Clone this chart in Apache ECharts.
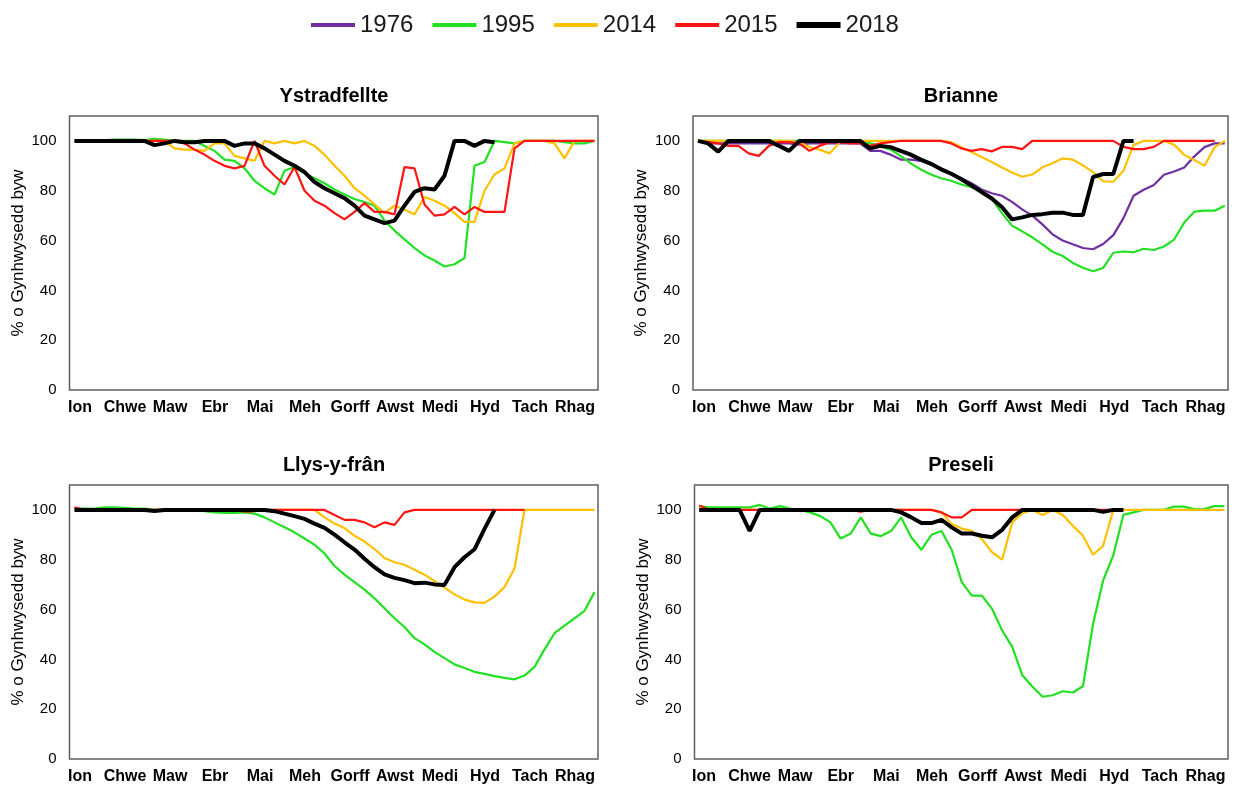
<!DOCTYPE html>
<html>
<head>
<meta charset="utf-8">
<script src="https://cdn.jsdelivr.net/npm/echarts@6/dist/echarts.min.js"></script>
<style>
  html, body { margin: 0; padding: 0; background: #fff; }
  #chart { width: 1236px; height: 790px; }
</style>
</head>
<body>
<div id="chart"></div>
<script>
// Weekly live-storage percentages (week 0 = start of January, week 52 = end of December)
const months = ['Ion', 'Chwe', 'Maw', 'Ebr', 'Mai', 'Meh', 'Gorff', 'Awst', 'Medi', 'Hyd', 'Tach', 'Rhag'];
const years = ['1976', '1995', '2014', '2015', '2018'];
const yTicks = [0, 20, 40, 60, 80, 100];
const yAxisTitle = '% o Gynhwysedd byw';
const sites = ['Ystradfellte', 'Brianne', 'Llys-y-frân', 'Preseli'];

// Ystradfellte
const ystradfellte1976 = [];
const ystradfellte1995 = [100,100,100,100.3,100.5,100.5,100.5,100.3,100.8,100.5,100,100,100,98,96,92.5,92,89,84,81,78.5,88,89.5,87,85,83,80.5,78.5,76.7,75.5,74,68,64,60.5,57,54,52,49.6,50.5,53,90,91.5,100,99.5,99,100,100,100,100,99.5,99,99,100];
const ystradfellte2014 = [100,100,100,100,100,100,100,100,100,100,97,96.5,96.5,96,99,99,94,93,92,100,99,100,99,100,98,94.5,90,86,81,78,74.5,71,74,72.5,70.5,77.5,76,74,71,67.5,67.5,80,86.5,89,99,100,100,100,99,93,100,100,100];
const ystradfellte2015 = [100,100,100,100,100,100,100,100,100,100,100,99,96.5,94.5,92,90,89,90,100,90,86,82.5,89.5,80,76,74,71,68.5,71.5,75,71.5,71.5,70.5,89.5,89,74.5,70,70.5,73.5,70.5,73.5,71.5,71.5,71.5,97,100,100,100,100,100,100,100,100];
const ystradfellte2018 = [100,100,100,100,100,100,100,100,98.3,99,100,99.5,99.5,100,100,100,98,99,99,97,94.5,92,90,87.5,83.5,81,79,77,74,70,68.5,67,68,74,79.5,81,80.5,86,100,100,98,100,99.5,null,null,null,null,null,null,null,null,null,null];

// Brianne
const brianne1976 = [100,99,99,99,99,99,99,99,99,99,98.5,99,99,99,99,99,99,96,96,94.5,92.5,92.5,92,90.5,89,87,85,83,80.5,79,78,75.5,72.5,70,66.5,62.5,60,58.5,57,56.5,58.6,62.2,69,78,80.4,82.3,86.4,87.7,89.3,93.8,97.5,99,99];
const brianne1995 = [100,100,100,100,100,100,100,100,100,100,100,100,100,100,100,100,100,99,98,96.5,94,91,88.5,86.5,85,84,82.5,81.4,80,76.8,71,66,63.7,61.3,58.5,55.5,53.8,51,49.1,47.7,49,55.1,55.6,55.3,56.7,56.2,57.6,60.4,67.2,71.6,72,72,74];
const brianne2014 = [100,100,100,100,100,100,100,100,100,100,99.5,97.5,96.5,95,99.5,100,100,100,100,100,100,100,100,100,100,99.5,97.5,95.5,93.5,91.5,89.3,87.3,85.6,86.5,89.4,91,93,92.5,90.2,87.5,83.8,83.6,88,98.4,100,100,100,98.5,94.4,92.3,90,97.5,100];
const brianne2015 = [100,99.5,99,98,98,95,94,98,99.5,99.5,99,96,98,99.5,99.5,99,99,98,99,99.5,100,100,100,100,100,99,97,96,96.7,95.8,97.6,97.6,96.7,100,100,100,100,100,100,100,100,100,97.6,96.7,96.7,97.6,100,100,100,100,100,100,null];
const brianne2018 = [100,99,95.7,100,100,100,100,100,98,96,100,100,100,100,100,100,100,97,98,97.5,96,94.5,92.5,90.8,88.6,86.8,84.6,82.1,79.5,76.9,73.5,68.5,69.3,70.3,70.6,71.2,71.2,70.3,70.3,85.5,86.7,86.7,100,100,null,null,null,null,null,null,null,null,null];

// Llys-y-frân
const llysyfran1976 = [];
const llysyfran1995 = [100.5,100.5,100.5,101,101,100.8,100.5,100.5,100,100,100,100,100,99.5,99,98.8,98.8,99,98.5,97,95,93,91,88.5,86,82.5,77.5,74,71,68,64.5,60.5,56.5,53,48.5,46,43,40.5,38,36.5,35,34.2,33.3,32.6,32,33.5,37,44,50.5,53.5,56.5,59.5,67];
const llysyfran2014 = [100,100,100,100,100,100,100,100,100,100,100,100,100,100,100,100,100,100,100,100,100,100,100,100,100,97,94.5,92.7,89.6,87.3,84.3,80.7,79,78,76,74,71.4,68.8,66.1,64,62.9,62.7,65.2,69,76.5,100,100,100,100,100,100,100,100];
const llysyfran2015 = [101,100,100,100,100,100,100,100,100,100,100,100,100,100,100,100,100,99.3,99.5,100,100,100,100,100,100,100,98,96,96,95,93,95,94,99,100,100,100,100,100,100,100,100,100,100,100,100,null,null,null,null,null,null,null];
const llysyfran2018 = [100,100,100,100,100,100,100,100,99.6,100,100,100,100,100,100,100,100,100,100,100,99.5,98.5,97.5,96.4,94.5,92.8,90.1,87,84.1,80.4,77,74.1,72.7,71.8,70.6,70.8,70.1,69.9,77,81,84.2,92.4,100,null,null,null,null,null,null,null,null,null,null];

// Preseli
const preseli1976 = [];
const preseli1995 = [101.5,101,101,101,101,101,102,100.5,101.5,100.5,100,99,97.5,95,88.5,90.5,97,90.5,89.5,91.5,97,89,84,90,91.5,84,71,65.6,65.6,60.3,51.6,45,33.6,29,25,25.6,27.2,26.7,29.2,54.3,71.7,81.7,98,99,100,100,100,101.3,101.3,100.3,100.3,101.5,101.5];
const preseli2014 = [100,100,100,100,100,100,100,100,100,100,100,100,100,100,100,100,100,100,100,100,100,100,100,100,99,94.3,92.5,91.6,88.3,83,80,95,98.7,100,98,100,98,93.6,89.6,82,85.6,100,100,100,100,100,100,100,100,100,100,100,100];
const preseli2015 = [101.8,100,100,100,100,100,100,100,100,100,100,100,100,100,100,100,99.3,100,100,100,100,100,100,100,99,97,97,100,100,100,100,100,100,100,100,100,100,100,100,100,100,100,100,null,null,null,null,null,null,null,null,null,null];
const preseli2018 = [100,100,100,100,100,91.6,100,100,100,100,100,100,100,100,100,100,100,100,100,100,99,97,94.7,94.7,96,93,90.5,90.5,89.6,89,92,97,100,100,100,100,100,100,100,100,99.2,100,100,null,null,null,null,null,null,null,null,null,null];

const siteSeries = [
  [ystradfellte1976, ystradfellte1995, ystradfellte2014, ystradfellte2015, ystradfellte2018],
  [brianne1976, brianne1995, brianne2014, brianne2015, brianne2018],
  [llysyfran1976, llysyfran1995, llysyfran2014, llysyfran2015, llysyfran2018],
  [preseli1976, preseli1995, preseli2014, preseli2015, preseli2018]
];

const colors = ['#7030A0', '#22E022', '#FFC000', '#FF1414', '#000000'];
const widths = [2.2, 2.2, 2.2, 2.2, 4];
const FONT = '"Liberation Sans", Arial, sans-serif';

// Plot boxes: [left, top, width, height, xMin, xMax, labelLeft, labelWidth, titleX]
const panels = [
  [69.5, 116, 528.5, 274, -0.5, 52.35, 57.5, 540, 334],
  [693, 116, 535, 274, -0.49, 52.32, 681.2, 547, 961],
  [69.5, 485, 528.5, 274, -0.5, 52.35, 57.5, 540, 334],
  [694.5, 485, 533.5, 274, -0.46, 52.36, 681.2, 547, 961]
];

const grid = [], xAxis = [], yAxis = [], series = [], title = [];

panels.forEach((p, k) => {
  const [left, top, width, height, xMin, xMax] = p;
  grid.push({ left, top, width, height, show: true, borderColor: '#5f5f5f', borderWidth: 1.5, backgroundColor: 'transparent' });
  xAxis.push({ gridIndex: k, type: 'value', min: xMin, max: xMax, show: false });
  yAxis.push({
    gridIndex: k, type: 'value', min: 0, max: 110, interval: 20,
    axisLine: { show: false }, axisTick: { show: false }, splitLine: { show: false },
    axisLabel: { margin: 13, fontSize: 15, color: '#000', fontFamily: FONT,
      formatter: v => (yTicks.indexOf(v) >= 0 ? String(v) : '') },
    name: yAxisTitle, nameLocation: 'middle', nameGap: 43,
    nameTextStyle: { fontSize: 17, color: '#000', fontFamily: FONT }
  });
  title.push({
    text: sites[k], left: p[8], top: top - 30, textAlign: 'center', padding: 0,
    textStyle: { fontSize: 20, fontWeight: 'bold', color: '#000', fontFamily: FONT }
  });
  siteSeries[k].forEach((vals, j) => {
    series.push({
      name: years[j], type: 'line', xAxisIndex: k, yAxisIndex: k,
      data: vals.map((v, i) => [i, v]).filter(d => d[1] !== null),
      showSymbol: false, symbol: 'none', smooth: false, animation: false,
      lineStyle: { color: colors[j], width: widths[j] },
      itemStyle: { color: colors[j] },
      z: 2 + j
    });
  });
});

// Month labels sit on their own category axes below each box
panels.forEach((p, k) => {
  const gi = panels.length + k;
  grid.push({ left: p[6], top: p[1], width: p[7], height: p[3], show: false });
  xAxis.push({
    gridIndex: gi, type: 'category', data: months, boundaryGap: true,
    axisLine: { show: false }, axisTick: { show: false }, splitLine: { show: false },
    axisLabel: { interval: 0, margin: 10, fontSize: 16, fontWeight: 'bold', color: '#000', fontFamily: FONT }
  });
  yAxis.push({ gridIndex: gi, type: 'value', show: false, min: 0, max: 110 });
});

const thinIcon = 'path://M0,0L0,0M0,1H44V5H0ZM44,6L44,6';
const thickIcon = 'path://M0,0H44V6H0Z';

const option = {
  backgroundColor: '#fff',
  animation: false,
  title,
  legend: {
    left: 306, top: 8, itemWidth: 44, itemHeight: 6, itemGap: 19,
    data: years.map((y, j) => ({ name: y, icon: j === 4 ? thickIcon : thinIcon })),
    textStyle: { fontSize: 24, color: '#1a1a1a', fontFamily: FONT }
  },
  grid, xAxis, yAxis, series
};

const chart = echarts.init(document.getElementById('chart'), null, { renderer: 'canvas' });
chart.setOption(option);
</script>
</body>
</html>
